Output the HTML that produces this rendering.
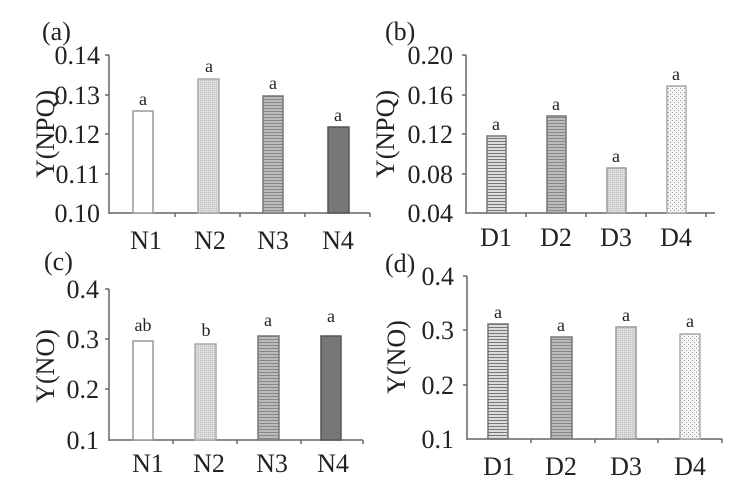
<!DOCTYPE html>
<html><head><style>
body{margin:0;background:#fff}
svg{display:block}
text{font-family:"Liberation Serif",serif;fill:#222}
.t{font-size:26px}
.s{font-size:18px}
</style></head><body>
<svg width="736" height="484" viewBox="0 0 736 484">
<defs>
<pattern id="hl" width="4" height="3" patternUnits="userSpaceOnUse"><rect width="4" height="3" fill="#bbb"/><rect width="4" height="1" fill="#888"/></pattern>
<pattern id="hl2" width="4" height="3" patternUnits="userSpaceOnUse"><rect width="4" height="3" fill="#ddd"/><rect width="4" height="1" fill="#777"/></pattern>
<pattern id="fine" width="2" height="2" patternUnits="userSpaceOnUse"><rect width="2" height="2" fill="#ddd"/><rect width="1" height="1" fill="#bbb"/></pattern>
<pattern id="cd" width="4" height="4" patternUnits="userSpaceOnUse"><rect width="4" height="4" fill="#f6f6f6"/><rect width="1" height="1" fill="#999"/><rect x="2" y="2" width="1" height="1" fill="#999"/></pattern>
</defs>
<g stroke="#666" stroke-width="1.5">
<line x1="109" y1="55" x2="109" y2="214"/><line x1="109" y1="213" x2="370" y2="213"/>
<line x1="105" y1="55" x2="109" y2="55"/><line x1="105" y1="95" x2="109" y2="95"/><line x1="105" y1="134" x2="109" y2="134"/><line x1="105" y1="174" x2="109" y2="174"/>
<line x1="175" y1="213" x2="175" y2="217"/><line x1="240" y1="213" x2="240" y2="217"/><line x1="305" y1="213" x2="305" y2="217"/><line x1="370" y1="213" x2="370" y2="217"/>
<line x1="466" y1="55" x2="466" y2="214"/><line x1="466" y1="213" x2="715" y2="213"/>
<line x1="462" y1="55" x2="466" y2="55"/><line x1="462" y1="95" x2="466" y2="95"/><line x1="462" y1="134" x2="466" y2="134"/><line x1="462" y1="174" x2="466" y2="174"/>
<line x1="526" y1="213" x2="526" y2="217"/><line x1="586" y1="213" x2="586" y2="217"/><line x1="646" y1="213" x2="646" y2="217"/><line x1="706" y1="213" x2="706" y2="217"/>
<line x1="109" y1="289" x2="109" y2="441"/><line x1="109" y1="440" x2="363" y2="440"/>
<line x1="105" y1="289" x2="109" y2="289"/><line x1="105" y1="339" x2="109" y2="339"/><line x1="105" y1="389" x2="109" y2="389"/>
<line x1="173" y1="440" x2="173" y2="444"/><line x1="237" y1="440" x2="237" y2="444"/><line x1="301" y1="440" x2="301" y2="444"/><line x1="363" y1="440" x2="363" y2="444"/>
<line x1="467" y1="276" x2="467" y2="440"/><line x1="467" y1="439" x2="722" y2="439"/>
<line x1="463" y1="276" x2="467" y2="276"/><line x1="463" y1="330" x2="467" y2="330"/><line x1="463" y1="385" x2="467" y2="385"/>
<line x1="531" y1="439" x2="531" y2="443"/><line x1="595" y1="439" x2="595" y2="443"/><line x1="658" y1="439" x2="658" y2="443"/><line x1="722" y1="439" x2="722" y2="443"/>
</g>
<g stroke-width="1.5">
<rect x="133" y="111" width="20" height="102" fill="#fff" stroke="#999"/>
<rect x="198" y="79" width="21" height="134" fill="url(#fine)" stroke="#aaa"/>
<rect x="263" y="96" width="20" height="117" fill="url(#hl)" stroke="#777"/>
<rect x="328" y="127" width="21" height="86" fill="#777" stroke="#555"/>
<rect x="487" y="136" width="19" height="77" fill="url(#hl2)" stroke="#777"/>
<rect x="547" y="116" width="19" height="97" fill="url(#hl)" stroke="#777"/>
<rect x="607" y="168" width="19" height="45" fill="url(#fine)" stroke="#999"/>
<rect x="667" y="86" width="19" height="127" fill="url(#cd)" stroke="#aaa"/>
<rect x="133" y="341" width="20" height="99" fill="#fff" stroke="#999"/>
<rect x="195" y="344" width="21" height="96" fill="url(#fine)" stroke="#aaa"/>
<rect x="258" y="336" width="21" height="104" fill="url(#hl)" stroke="#777"/>
<rect x="321" y="336" width="20" height="104" fill="#777" stroke="#555"/>
<rect x="488" y="324" width="20" height="115" fill="url(#hl2)" stroke="#777"/>
<rect x="551" y="337" width="21" height="102" fill="url(#hl)" stroke="#777"/>
<rect x="616" y="327" width="20" height="112" fill="url(#fine)" stroke="#999"/>
<rect x="680" y="334" width="20" height="105" fill="url(#cd)" stroke="#aaa"/>
</g>
<g class="t">
<text x="42" y="40">(a)</text><text x="385" y="40">(b)</text><text x="44" y="270">(c)</text><text x="385" y="272">(d)</text>
</g>
<g class="t" text-anchor="end">
<text x="100" y="64">0.14</text><text x="100" y="104">0.13</text><text x="100" y="143">0.12</text><text x="100" y="183">0.11</text><text x="100" y="222">0.10</text>
<text x="453" y="64">0.20</text><text x="453" y="104">0.16</text><text x="453" y="143">0.12</text><text x="453" y="183">0.08</text><text x="453" y="222">0.04</text>
<text x="99" y="298">0.4</text><text x="99" y="348">0.3</text><text x="99" y="398">0.2</text><text x="99" y="449">0.1</text>
<text x="454" y="285">0.4</text><text x="454" y="339">0.3</text><text x="454" y="394">0.2</text><text x="454" y="448">0.1</text>
</g>
<g class="t" text-anchor="middle">
<text transform="translate(54,134) rotate(-90)">Y(NPQ)</text>
<text transform="translate(394,134) rotate(-90)">Y(NPQ)</text>
<text transform="translate(54,366) rotate(-90)">Y(NO)</text>
<text transform="translate(405,357) rotate(-90)">Y(NO)</text>
<text x="146" y="249">N1</text><text x="210" y="249">N2</text><text x="273" y="249">N3</text><text x="338" y="249">N4</text>
<text x="496" y="246">D1</text><text x="556" y="246">D2</text><text x="616" y="246">D3</text><text x="676" y="246">D4</text>
<text x="148" y="472">N1</text><text x="209" y="472">N2</text><text x="272" y="472">N3</text><text x="333" y="472">N4</text>
<text x="499" y="475">D1</text><text x="561" y="475">D2</text><text x="626" y="475">D3</text><text x="690" y="475">D4</text>
</g>
<g class="s" text-anchor="middle">
<text x="143" y="105">a</text><text x="209" y="72">a</text><text x="273" y="89">a</text><text x="338" y="121">a</text>
<text x="496" y="130">a</text><text x="556" y="110">a</text><text x="616" y="162">a</text><text x="676" y="80">a</text>
<text x="143" y="331">ab</text><text x="206" y="336">b</text><text x="268" y="326">a</text><text x="331" y="322">a</text>
<text x="498" y="318">a</text><text x="561" y="331">a</text><text x="626" y="321">a</text><text x="690" y="327">a</text>
</g>
</svg>
</body></html>
